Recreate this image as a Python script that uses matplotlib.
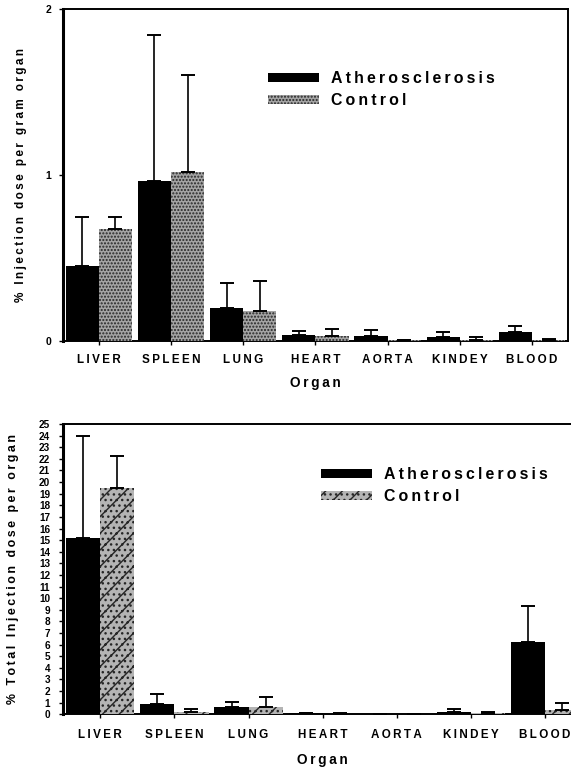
import matplotlib
matplotlib.use('Agg')
import matplotlib.pyplot as plt
from matplotlib.patches import Patch
import numpy as np

plt.rcParams['font.family'] = ['Liberation Sans', 'DejaVu Sans']
plt.rcParams['font.weight'] = 'bold'
plt.rcParams['hatch.linewidth'] = 1.0

organs = ['LIVER', 'SPLEEN', 'LUNG', 'HEART', 'AORTA', 'KINDEY', 'BLOOD']

# % injected dose per gram of organ (mean, SD)
athero_gram = [0.45, 0.965, 0.197, 0.038, 0.028, 0.027, 0.053]
athero_gram_sd = [0.295, 0.88, 0.15, 0.022, 0.036, 0.027, 0.037]
control_gram = [0.673, 1.02, 0.181, 0.032, 0.005, 0.008, 0.005]
control_gram_sd = [0.075, 0.585, 0.182, 0.040, 0.004, 0.014, 0.007]

# % total injected dose per organ (mean, SD)
athero_total = [15.15, 0.86, 0.63, 0.10, 0.03, 0.22, 6.2]
athero_total_sd = [8.85, 0.85, 0.43, 0.03, 0.01, 0.20, 3.1]
control_total = [19.5, 0.20, 0.60, 0.05, 0.01, 0.10, 0.40]
control_total_sd = [2.75, 0.23, 0.86, 0.02, 0.005, 0.07, 0.58]

W, H = 571, 769
fig = plt.figure(figsize=(W / 100, H / 100), dpi=100, facecolor='white')


def spaced(s, gap='\u2009'):
    # old typewriter-style tracking
    return gap.join(s)


def px_axes(left, top, right, bottom):
    return fig.add_axes([left / W, 1 - bottom / H, (right - left) / W, (bottom - top) / H])


def draw_panel(ax, athero, athero_sd, control, control_sd, ctrl_face, ctrl_hatch):
    x = np.arange(len(organs))
    w = 0.46
    ekw = dict(ecolor='black', elinewidth=1.2, capsize=5, capthick=1.4)
    ax.bar(x - w / 2, athero, w, color='black', linewidth=0,
           yerr=[np.zeros(len(athero)), athero_sd], error_kw=ekw, zorder=3)
    ax.bar(x + w / 2, control, w, facecolor=ctrl_face, edgecolor='#262626', linewidth=0,
           hatch=ctrl_hatch, yerr=[np.zeros(len(control)), control_sd], error_kw=ekw, zorder=3)
    ax.set_xlim(-0.5, 6.5)
    ax.set_xticks(x)
    ax.set_xticklabels([spaced(o) for o in organs], fontsize=8.4, fontweight='bold')
    for side in ['left', 'right', 'top', 'bottom']:
        ax.spines[side].set_linewidth(1.4)
    ax.spines['left'].set_linewidth(2.2)
    ax.tick_params(axis='both', direction='out', length=3, width=1)
    return x


def add_legend(ax, ctrl_face, ctrl_hatch, left, top):
    ax.legend(handles=[Patch(facecolor='black', label=spaced('Atherosclerosis')),
                       Patch(facecolor=ctrl_face, edgecolor='#262626', linewidth=0,
                             hatch=ctrl_hatch, label=spaced('Control'))],
              loc='upper left', bbox_to_anchor=(left / W, 1 - top / H),
              bbox_transform=fig.transFigure, frameon=False, fontsize=11.4,
              handlelength=3.2, handleheight=0.45, handletextpad=0.75,
              labelspacing=0.45, borderpad=0, borderaxespad=0)


# per-gram panel
ax1 = px_axes(62.7, 9.3, 568, 341)
draw_panel(ax1, athero_gram, athero_gram_sd, control_gram, control_gram_sd, '#a4a4a4', '.....')
ax1.set_ylim(0, 2)
ax1.set_yticks([0, 1, 2])
ax1.set_yticklabels(['0', '1', '2'], fontsize=7.5, fontweight='bold')
ax1.tick_params(axis='y', pad=5.5)
ax1.tick_params(axis='x', pad=6.3)
ax1.set_ylabel(spaced('% Injection dose per gram organ'), fontsize=8.5, fontweight='bold')
ax1.yaxis.set_label_coords(-0.071, 0.5)
ax1.text(0.5, -(383 - 341) / 331.7, spaced('Organ'), transform=ax1.transAxes,
         ha='center', va='center', fontsize=9.8, fontweight='bold')
add_legend(ax1, '#a4a4a4', '.....', 268, 71)

# per-organ panel
ax2 = px_axes(63.3, 424, 582, 714.3)
draw_panel(ax2, athero_total, athero_total_sd, control_total, control_total_sd, '#b4b4b4', '//...')
ax2.set_ylim(0, 25)
ax2.set_yticks(range(0, 26))
ax2.set_yticklabels([str(v) for v in range(0, 26)], fontsize=7.2, fontweight='bold')
ax2.tick_params(axis='y', pad=6.5)
ax2.tick_params(axis='x', pad=7.5)
ax2.set_ylabel(spaced('% Total Injection dose per organ'), fontsize=8.9, fontweight='bold')
ax2.yaxis.set_label_coords(-0.085, 0.5)
ax2.text(0.5, -(760 - 714.3) / 290.3, spaced('Organ'), transform=ax2.transAxes,
         ha='center', va='center', fontsize=9.8, fontweight='bold')
add_legend(ax2, '#b4b4b4', '//...', 321, 467)

fig.savefig('out.png', dpi=100, facecolor='white')
